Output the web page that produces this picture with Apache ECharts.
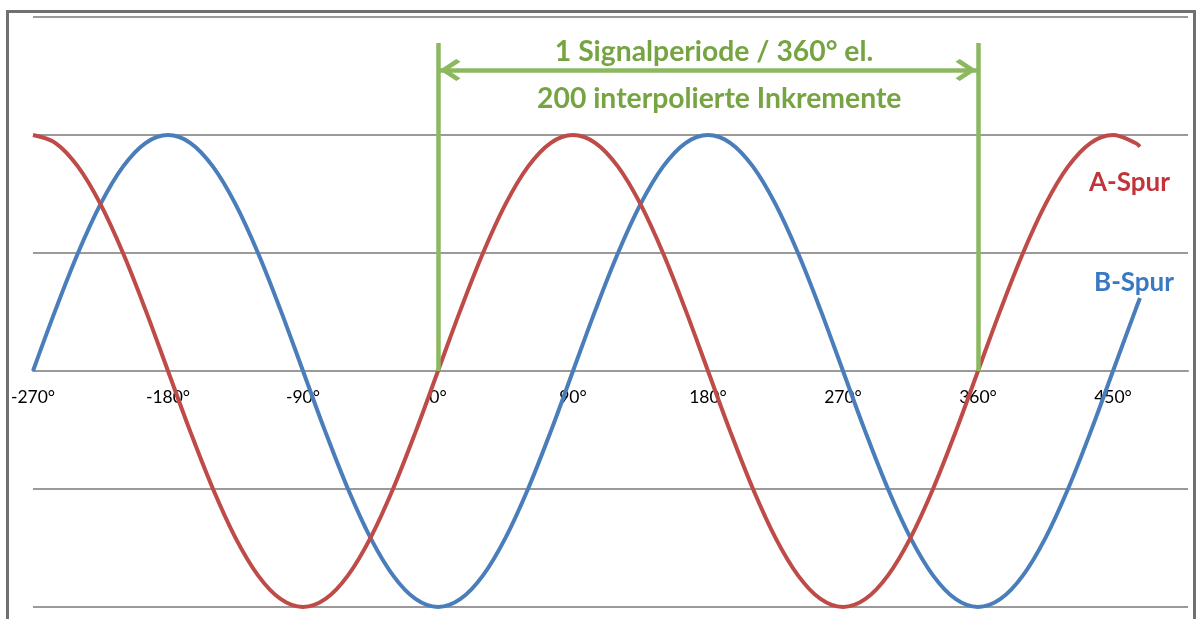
<!DOCTYPE html>
<html>
<head>
<meta charset="utf-8">
<script src="https://cdn.jsdelivr.net/npm/echarts@6/dist/echarts.min.js"></script>
<style>html,body{margin:0;padding:0;background:#fff}#c{width:1201px;height:619px}</style>
</head>
<body>
<div id="c"></div>
<script>
// Phase angle in degrees (x positions of the samples)
const angles = [-270,-255,-240,-225,-210,-195,-180,-165,-150,-135,-120,-105,-90,-75,-60,-45,-30,-15,
  0,15,30,45,60,75,90,105,120,135,150,165,180,195,210,225,240,255,270,285,300,315,330,345,
  360,375,390,405,420,435,450,465,468];
// A-Spur values
const aSpur = [1,0.966,0.866,0.707,0.5,0.259,0,-0.259,-0.5,-0.707,-0.866,-0.966,-1,-0.966,-0.866,-0.707,-0.5,-0.259,
  0,0.259,0.5,0.707,0.866,0.966,1,0.966,0.866,0.707,0.5,0.259,0,-0.259,-0.5,-0.707,-0.866,-0.966,-1,-0.966,-0.866,-0.707,-0.5,-0.259,
  0,0.259,0.5,0.707,0.866,0.966,1,0.966,0.951];
// B-Spur values
const bSpur = [0,0.259,0.5,0.707,0.866,0.966,1,0.966,0.866,0.707,0.5,0.259,0,-0.259,-0.5,-0.707,-0.866,-0.966,
  -1,-0.966,-0.866,-0.707,-0.5,-0.259,0,0.259,0.5,0.707,0.866,0.966,1,0.966,0.866,0.707,0.5,0.259,0,-0.259,-0.5,-0.707,-0.866,-0.966,
  -1,-0.966,-0.866,-0.707,-0.5,-0.259,0,0.259,0.309];
// Axis settings
const xMin = -270, xMax = 500, xStep = 90;
const yMin = -1, yMax = 1.5, yStep = 0.5;
// Annotation
const periodStart = 0, periodEnd = 360;
const annoTop = 1.39, arrowLevel = 1.275;
const annoText1 = '1 Signalperiode / 360° el.';
const annoText2 = '200 interpolierte Inkremente';
const labelA = 'A-Spur', labelB = 'B-Spur';

const green = '#8cb860', greenText = '#76a443';
const font = 'Lato, "Open Sans", sans-serif';
const chevL = 'path://M0,10 L10,0 L12.5,2.5 L5,10 L12.5,17.5 L10,20 Z';
const chevR = 'path://M12.5,10 L2.5,0 L0,2.5 L7.5,10 L0,17.5 L2.5,20 Z';

const gridTop = 17, gridBottom = 12, chartH = 619;
const plotH = chartH - gridTop - gridBottom;
const zeroOffset = -plotH * (0 - yMin) / (yMax - yMin);

const chart = echarts.init(document.getElementById('c'), null, {renderer:'canvas'});
chart.setOption({
  animation: false,
  backgroundColor: '#fff',
  grid: {left: 33, right: 13, top: gridTop, bottom: gridBottom, outerBoundsMode: 'none', containLabel: false},
  xAxis: {
    type: 'value', min: xMin, max: xMax, interval: xStep,
    position: 'bottom', offset: zeroOffset,
    axisLine: {onZero: false, lineStyle: {color: '#9a9a9a', width: 2}},
    axisTick: {show: false},
    splitLine: {show: false},
    axisLabel: {
      color: '#000', fontSize: 17.5, fontFamily: font, margin: 17,
      showMaxLabel: false, hideOverlap: false,
      formatter: v => v + '°'
    }
  },
  yAxis: {
    type: 'value', min: yMin, max: yMax, interval: yStep,
    axisLine: {show: false, onZero: false}, axisTick: {show: false}, axisLabel: {show: false},
    splitLine: {lineStyle: {color: '#9a9a9a', width: 2}}
  },
  graphic: [{
    type: 'rect', z: 100, silent: true,
    shape: {x: 7.5, y: 11.5, width: 1187, height: 700},
    style: {fill: 'none', stroke: '#707070', lineWidth: 3}
  }],
  series: [
    {
      name: 'Annotation', type: 'line', data: [], z: 1,
      markLine: {
        silent: true, animation: false, symbol: 'none',
        label: {show: false},
        lineStyle: {color: green, width: 4.5, type: 'solid'},
        data: [
          [{coord: [periodStart, 0]}, {coord: [periodStart, annoTop]}],
          [{coord: [periodEnd, 0]}, {coord: [periodEnd, annoTop]}],
          [{coord: [periodStart, arrowLevel]}, {coord: [periodEnd, arrowLevel]}]
        ]
      },
      markPoint: {
        silent: true, symbol: 'circle', symbolSize: 0,
        label: {show: true, position: 'inside', fontFamily: font, fontWeight: 'bold', fontSize: 28.3, color: greenText},
        data: [
          {coord: [184, 1.352], label: {formatter: annoText1}},
          {coord: [187.5, 1.153], label: {formatter: annoText2}},
          {coord: [periodStart, arrowLevel], symbol: chevL, symbolSize: [21, 22], symbolOffset: [12, 0],
           itemStyle: {color: green}, label: {show: false}},
          {coord: [periodEnd, arrowLevel], symbol: chevR, symbolSize: [21, 22], symbolOffset: [-12, 0],
           itemStyle: {color: green}, label: {show: false}}
        ]
      }
    },
    {
      name: labelB, type: 'line', smooth: 0.35, showSymbol: false, z: 3,
      data: angles.map((a, i) => [a, bSpur[i]]),
      lineStyle: {color: '#4a7ebb', width: 4},
      itemStyle: {color: '#4a7ebb'},
      markPoint: {
        silent: true, symbol: 'circle', symbolSize: 0,
        label: {show: true, position: 'inside', fontFamily: font, fontWeight: 'bold', fontSize: 26, color: '#3a78c2', formatter: labelB},
        data: [{coord: [464, 0.373]}]
      }
    },
    {
      name: labelA, type: 'line', smooth: 0.35, showSymbol: false, z: 4,
      data: angles.map((a, i) => [a, aSpur[i]]),
      lineStyle: {color: '#be4b48', width: 4},
      itemStyle: {color: '#be4b48'},
      markPoint: {
        silent: true, symbol: 'circle', symbolSize: 0,
        label: {show: true, position: 'inside', fontFamily: font, fontWeight: 'bold', fontSize: 26, color: '#c0343a', formatter: labelA},
        data: [{coord: [461, 0.797]}]
      }
    }
  ]
});
</script>
</body>
</html>
